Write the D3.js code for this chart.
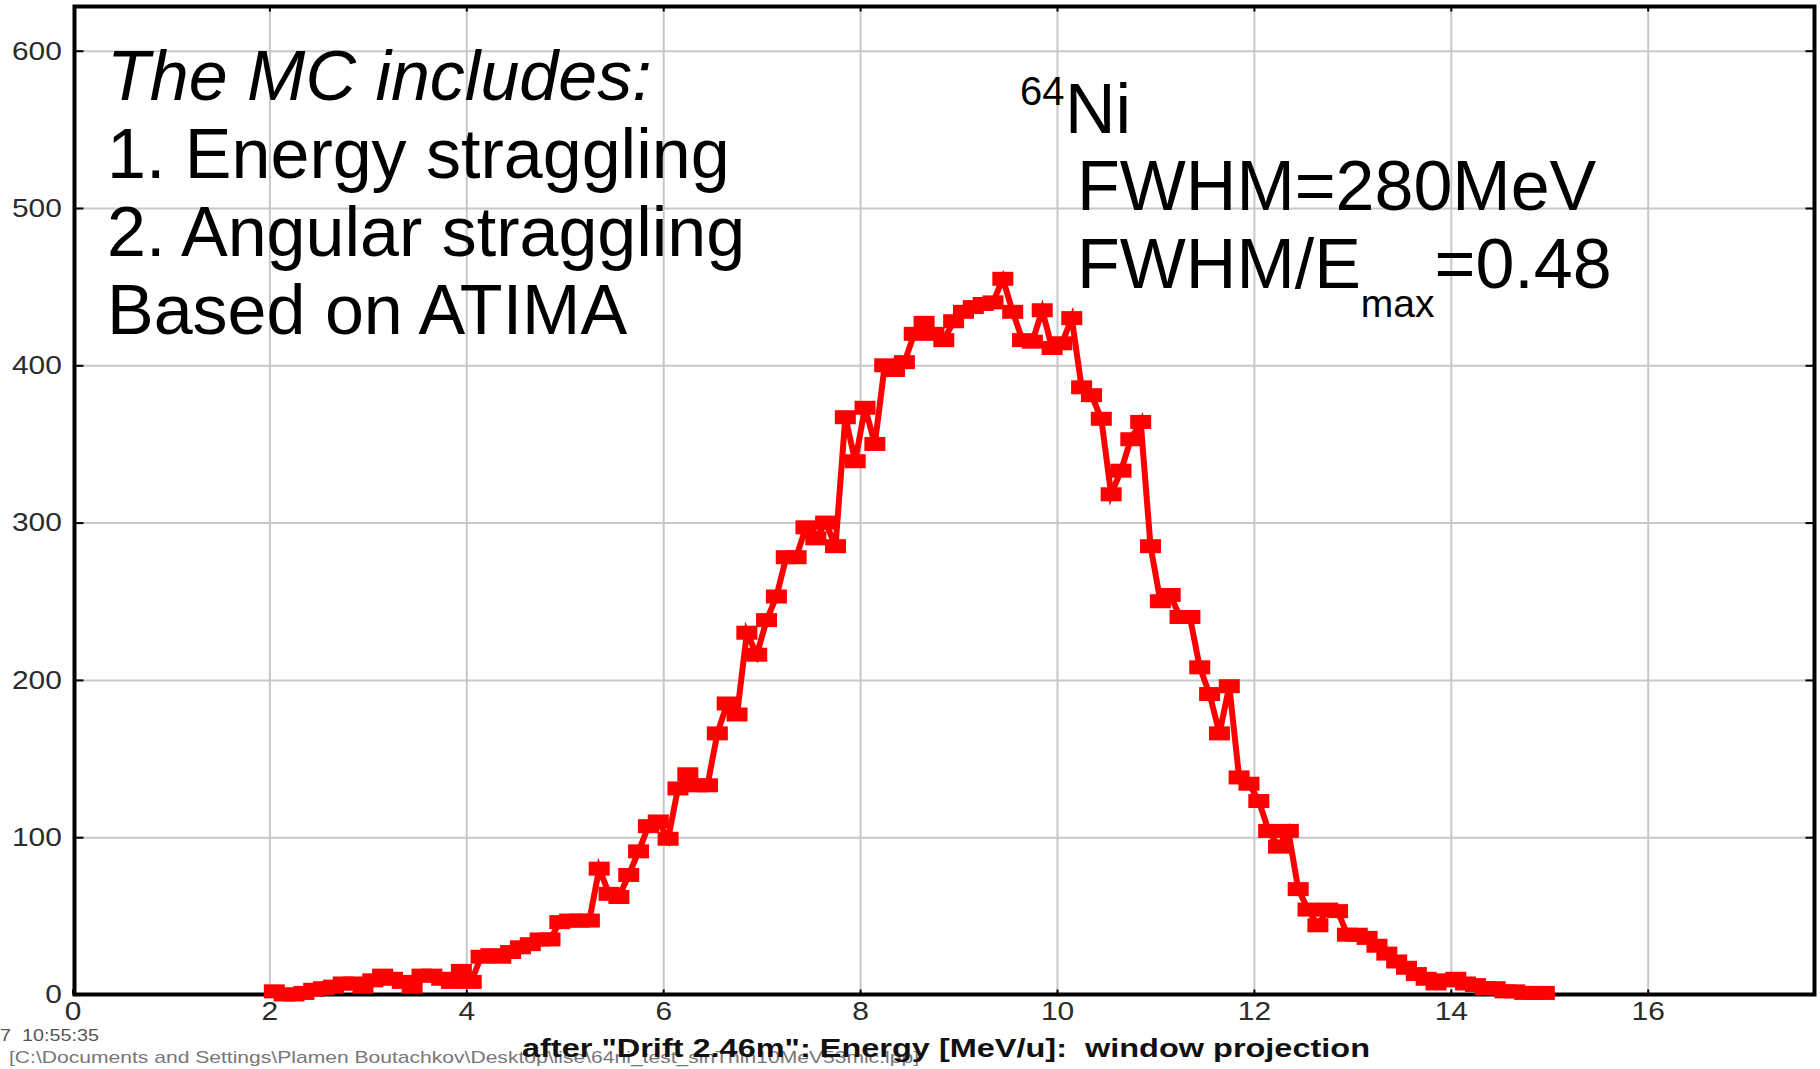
<!DOCTYPE html>
<html>
<head>
<meta charset="utf-8">
<script src="https://cdn.jsdelivr.net/npm/d3@7"></script>
<style>
  html, body { margin: 0; padding: 0; background: #fff; }
  svg { display: block; }
  text { font-family: "Liberation Sans", Arial, sans-serif; white-space: pre; }
</style>
</head>
<body>
<svg id="chart" width="1820" height="1069"></svg>
<script>
// bin centres in MeV/u (0.1 wide bins)
const energy = [
  2.05, 2.15, 2.25, 2.35, 2.45, 2.55, 2.65, 2.75, 2.85, 2.95,
  3.05, 3.15, 3.25, 3.35, 3.45, 3.55, 3.65, 3.75, 3.85, 3.95,
  4.05, 4.15, 4.25, 4.35, 4.45, 4.55, 4.65, 4.75, 4.85, 4.95,
  5.05, 5.15, 5.25, 5.35, 5.45, 5.55, 5.65, 5.75, 5.85, 5.95,
  6.05, 6.15, 6.25, 6.35, 6.45, 6.55, 6.65, 6.75, 6.85, 6.95,
  7.05, 7.15, 7.25, 7.35, 7.45, 7.55, 7.65, 7.75, 7.85, 7.95,
  8.05, 8.15, 8.25, 8.35, 8.45, 8.55, 8.65, 8.75, 8.85, 8.95,
  9.05, 9.15, 9.25, 9.35, 9.45, 9.55, 9.65, 9.75, 9.85, 9.95,
  10.05, 10.15, 10.25, 10.35, 10.45, 10.55, 10.65, 10.75, 10.85, 10.95,
  11.05, 11.15, 11.25, 11.35, 11.45, 11.55, 11.65, 11.75, 11.85, 11.95,
  12.05, 12.15, 12.25, 12.35, 12.45, 12.55, 12.65, 12.75, 12.85, 12.95,
  13.05, 13.15, 13.25, 13.35, 13.45, 13.55, 13.65, 13.75, 13.85, 13.95,
  14.05, 14.15, 14.25, 14.35, 14.45, 14.55, 14.65, 14.75, 14.85, 14.95
]
// counts per bin
const counts = [
  2, 0, 0, 1, 3, 4, 5, 7, 7, 5,
  9, 12, 10, 8, 5, 12, 12, 10, 8, 15,
  8, 24, 25, 24, 27, 30, 32, 35, 35, 46,
  47, 47, 47, 80, 64, 62, 76, 91, 107, 110,
  99, 131, 140, 133, 133, 166, 185, 178, 230, 216,
  238, 253, 278, 278, 297, 290, 300, 285, 367, 339,
  373, 350, 400, 397, 402, 420, 427, 420, 416, 428,
  434, 437, 439, 440, 455, 434, 416, 415, 435, 411,
  414, 430, 386, 381, 366, 318, 333, 353, 364, 285,
  250, 254, 240, 240, 208, 191, 166, 196, 138, 134,
  123, 104, 94, 104, 67, 54, 44, 54, 53, 38,
  38, 36, 31, 26, 21, 17, 13, 10, 7, 9,
  10, 7, 6, 4, 4, 2, 2, 1, 1, 1
]
const xTicks = [0, 2, 4, 6, 8, 10, 12, 14, 16]
const yTicks = [0, 100, 200, 300, 400, 500, 600]

const leftLines = ['The MC includes:', '1. Energy straggling', '2. Angular straggling', 'Based on ATIMA']
const timeStamp = '7  10:55:35'
const filePath = '[C:\\Documents and Settings\\Plamen Boutachkov\\Desktop\\lise\\64ni_test_sinThin10MeV53mic.lpp]'
const xTitle = 'after "Drift 2.46m": Energy [MeV/u]:  window projection'

const svg = d3.select('#chart')
const frame = {left: 74.5, right: 1814.5, top: 6.5, bottom: 994.5}

const x = d3.scaleLinear().domain([0, 16]).range([72.5, 1647.7])
const y = d3.scaleLinear().domain([0, 600]).range([994.5, 50.7])

// grid
svg.append('g')
  .attr('transform', `translate(0,${frame.bottom})`)
  .call(d3.axisBottom(x).tickValues(xTicks.slice(1)).tickSize(-(frame.bottom - frame.top)).tickFormat(''))
  .call((g) => g.select('.domain').remove())
  .selectAll('line').attr('stroke', '#c8c8c8').attr('stroke-width', 2)

svg.append('g')
  .attr('transform', `translate(${frame.left},0)`)
  .call(d3.axisLeft(y).tickValues(yTicks.slice(1)).tickSize(-(frame.right - frame.left)).tickFormat(''))
  .call((g) => g.select('.domain').remove())
  .selectAll('line').attr('stroke', '#c8c8c8').attr('stroke-width', 2)

// small inward ticks on all four sides
const tickStyle = (g) => {
  g.select('.domain').remove()
  g.selectAll('line').attr('stroke', '#000').attr('stroke-width', 2)
}
svg.append('g').attr('transform', `translate(0,${frame.top})`)
  .call(d3.axisTop(x).tickValues(xTicks.slice(1)).tickSize(-5).tickFormat('')).call(tickStyle)
svg.append('g').attr('transform', `translate(${frame.right},0)`)
  .call(d3.axisRight(y).tickValues(yTicks.slice(1)).tickSize(-9).tickFormat('')).call(tickStyle)

const xAxis = svg.append('g')
  .attr('transform', `translate(0,${frame.bottom})`)
  .call(d3.axisBottom(x).tickValues(xTicks).tickSizeInner(-5).tickSizeOuter(0).tickPadding(7))
  .call(tickStyle)
xAxis.selectAll('text')
  .attr('font-size', 26).attr('fill', '#2b2b2b')
  .attr('font-family', '"Liberation Sans", Arial, sans-serif')
  .attr('transform', 'scale(1.15,1)')

const yAxis = svg.append('g')
  .attr('transform', `translate(${frame.left},0)`)
  .call(d3.axisLeft(y).tickValues(yTicks).tickSizeInner(-9).tickSizeOuter(0).tickPadding(11))
  .call(tickStyle)
yAxis.selectAll('text')
  .attr('font-size', 26).attr('fill', '#2b2b2b')
  .attr('font-family', '"Liberation Sans", Arial, sans-serif')
  .attr('transform', 'scale(1.15,1)')

// frame
svg.append('rect')
  .attr('x', frame.left).attr('y', frame.top)
  .attr('width', frame.right - frame.left).attr('height', frame.bottom - frame.top)
  .attr('fill', 'none').attr('stroke', '#000').attr('stroke-width', 4)

// histogram line + markers
const pts = energy.map((e, i) => ({e, c: counts[i]}))
svg.append('path')
  .datum(pts)
  .attr('d', d3.line().x((d) => x(d.e)).y((d) => y(d.c)))
  .attr('fill', 'none').attr('stroke', '#ff0000').attr('stroke-width', 6)
  .attr('stroke-linejoin', 'miter')

svg.append('g').selectAll('rect')
  .data(pts)
  .join('rect')
  .attr('x', (d) => x(d.e) - 10.5).attr('y', (d) => y(d.c) - 7)
  .attr('width', 21).attr('height', 14)
  .attr('fill', '#ff0000')

// annotations
const left = svg.append('text').attr('font-size', 70).attr('fill', '#000')
leftLines.forEach((t, i) => {
  left.append('tspan').attr('x', 107).attr('y', 100 + i * 78)
    .attr('font-style', i === 0 ? 'italic' : 'normal').text(t)
})

svg.append('text').attr('x', 1020).attr('y', 105).attr('font-size', 40).text('64')
svg.append('text').attr('x', 1065).attr('y', 133).attr('font-size', 70).text('Ni')
svg.append('text').attr('x', 1077).attr('y', 210).attr('font-size', 70).text('FWHM=280MeV')
const ratio = svg.append('text').attr('x', 1077).attr('y', 288).attr('font-size', 70)
ratio.append('tspan').text('FWHM/E')
ratio.append('tspan').attr('font-size', 39).attr('dy', 29).text('max')
ratio.append('tspan').attr('dy', -29).text('=0.48')

// footer texts from the original printout
svg.append('text').attr('x', 0).attr('y', 1041).attr('font-size', 17)
  .attr('fill', '#555').attr('textLength', 99).attr('lengthAdjust', 'spacingAndGlyphs').text(timeStamp)
svg.append('text').attr('x', 9).attr('y', 1063).attr('font-size', 17)
  .attr('fill', '#777').attr('textLength', 910).attr('lengthAdjust', 'spacingAndGlyphs').text(filePath)
svg.append('text').attr('x', 522).attr('y', 1057).attr('font-size', 25).attr('font-weight', 'bold')
  .attr('fill', '#111').attr('textLength', 848).attr('lengthAdjust', 'spacingAndGlyphs').text(xTitle)
</script>
</body>
</html>
